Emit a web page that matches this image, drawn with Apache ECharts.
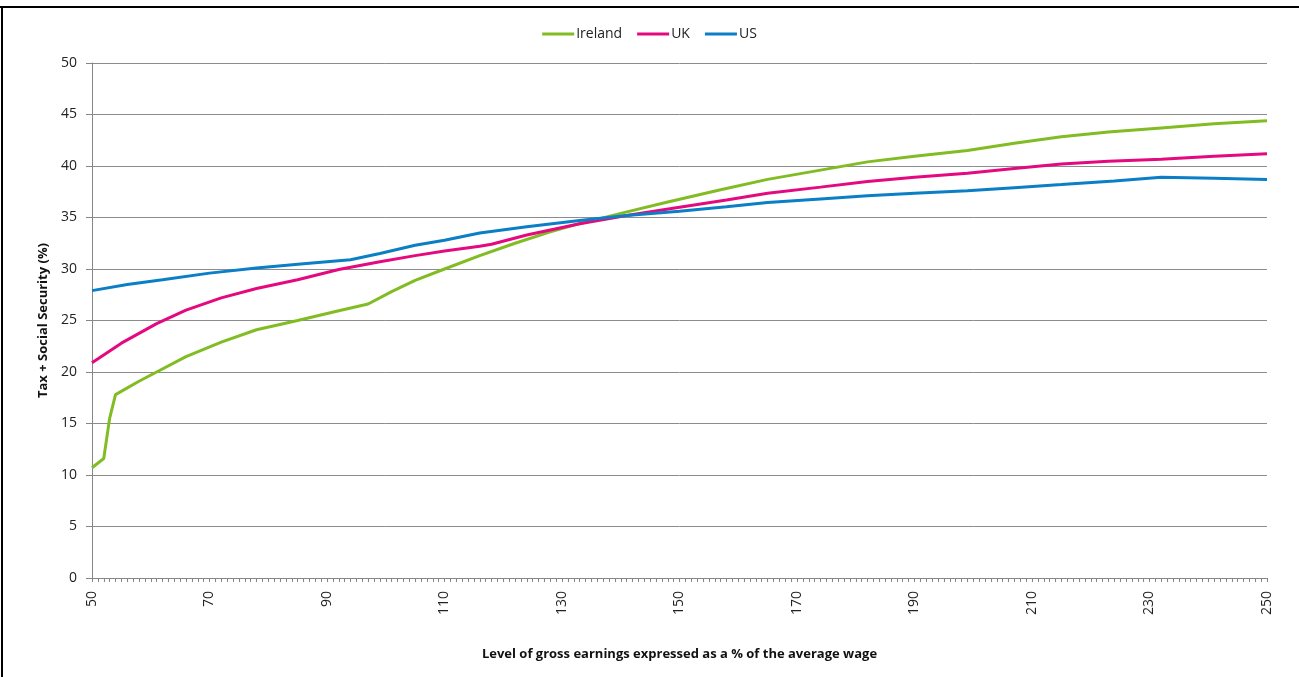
<!DOCTYPE html>
<html>
<head>
<meta charset="utf-8">
<script src="https://cdn.jsdelivr.net/npm/echarts@6/dist/echarts.min.js"></script>
<style>html,body{margin:0;padding:0;background:#fff;overflow:hidden}#c{width:1299px;height:677px}</style>
</head>
<body>
<div id="c"></div>
<script>
// x categories: gross earnings as % of average wage
const categories = [];
for (let v = 50; v <= 250; v++) categories.push(String(v));

const irelandX = [50, 52, 53, 54, 58, 61, 66, 72, 78, 85, 92, 97, 101, 105, 110, 116, 122, 128, 133, 140, 148, 157, 165, 174, 182, 190, 199, 207, 215, 223, 232, 241, 250];
const irelandY = [10.7, 11.6, 15.5, 17.8, 19.1, 20.0, 21.5, 22.9, 24.1, 25.0, 25.95, 26.6, 27.8, 28.9, 30.0, 31.3, 32.5, 33.6, 34.4, 35.4, 36.5, 37.7, 38.7, 39.6, 40.4, 40.95, 41.5, 42.2, 42.85, 43.3, 43.7, 44.1, 44.4];

const ukX = [50, 55, 61, 66, 72, 78, 85, 92, 99, 105, 110, 116, 118, 124, 133, 141, 150, 158, 165, 174, 182, 190, 199, 207, 215, 223, 232, 241, 250];
const ukY = [20.9, 22.8, 24.7, 26.0, 27.2, 28.1, 28.95, 29.95, 30.7, 31.3, 31.75, 32.2, 32.4, 33.3, 34.4, 35.2, 36.0, 36.7, 37.35, 37.95, 38.5, 38.9, 39.3, 39.75, 40.2, 40.45, 40.65, 40.95, 41.2];

const usX = [50, 56, 62, 70, 78, 86, 94, 99, 105, 110, 116, 124, 133, 141, 150, 158, 165, 174, 182, 190, 199, 207, 215, 224, 232, 241, 250];
const usY = [27.9, 28.5, 28.95, 29.6, 30.1, 30.5, 30.9, 31.5, 32.3, 32.8, 33.5, 34.1, 34.7, 35.2, 35.6, 36.05, 36.45, 36.8, 37.1, 37.35, 37.6, 37.9, 38.2, 38.55, 38.9, 38.8, 38.7];

function build(xs, ys) {
  const arr = categories.map(() => null);
  xs.forEach((x, i) => { arr[x - 50] = ys[i]; });
  return arr;
}

const font = '"Open Sans", "Noto Sans", sans-serif';
const chart = echarts.init(document.getElementById('c'));
chart.setOption({
  animation: false,
  backgroundColor: '#fff',
  graphic: [
    { type: 'line', shape: { x1: 0, y1: 7, x2: 1299, y2: 7 }, style: { stroke: '#000', lineWidth: 2 }, silent: true },
    { type: 'line', shape: { x1: 2, y1: 6, x2: 2, y2: 677 }, style: { stroke: '#000', lineWidth: 2 }, silent: true }
  ],
  legend: {
    top: 22, left: 'center',
    itemWidth: 32, itemHeight: 3, itemGap: 15, icon: 'rect',
    textStyle: { fontFamily: font, fontSize: 14, color: '#222', padding: [0, 0, 0, -3] },
    data: ['Ireland', 'UK', 'US']
  },
  grid: { left: 92, right: 32, top: 63, bottom: 99 },
  xAxis: {
    type: 'category', data: categories, boundaryGap: false,
    name: 'Level of gross earnings expressed as a % of the average wage',
    nameLocation: 'middle', nameGap: 70,
    nameTextStyle: { fontFamily: font, fontSize: 13, fontWeight: 'bold', color: '#111' },
    axisLine: { lineStyle: { color: '#868686', width: 1 } },
    axisTick: { interval: 0, length: 4, lineStyle: { color: '#868686' } },
    axisLabel: { interval: 19, rotate: 90, margin: 13, fontFamily: font, fontSize: 14, color: '#222' },
    splitLine: { show: false }
  },
  yAxis: {
    type: 'value', min: 0, max: 50, interval: 5,
    name: 'Tax + Social Security (%)', nameLocation: 'middle', nameGap: 40,
    nameTextStyle: { fontFamily: font, fontSize: 13, fontWeight: 'bold', color: '#111' },
    axisLine: { show: true, lineStyle: { color: '#868686', width: 1 } },
    axisTick: { show: true, length: 6, lineStyle: { color: '#868686' } },
    axisLabel: { margin: 15, fontFamily: font, fontSize: 14, color: '#222' },
    splitLine: { lineStyle: { color: '#8c8c8c', width: 1 } }
  },
  series: [
    { name: 'Ireland', type: 'line', data: build(irelandX, irelandY), connectNulls: true, showSymbol: false, symbol: 'none',
      lineStyle: { color: '#82BC23', width: 3 }, itemStyle: { color: '#82BC23' } },
    { name: 'UK', type: 'line', data: build(ukX, ukY), connectNulls: true, showSymbol: false, symbol: 'none',
      lineStyle: { color: '#E5097F', width: 3 }, itemStyle: { color: '#E5097F' } },
    { name: 'US', type: 'line', data: build(usX, usY), connectNulls: true, showSymbol: false, symbol: 'none',
      lineStyle: { color: '#0A7FC6', width: 3 }, itemStyle: { color: '#0A7FC6' } }
  ]
});
</script>
</body>
</html>
